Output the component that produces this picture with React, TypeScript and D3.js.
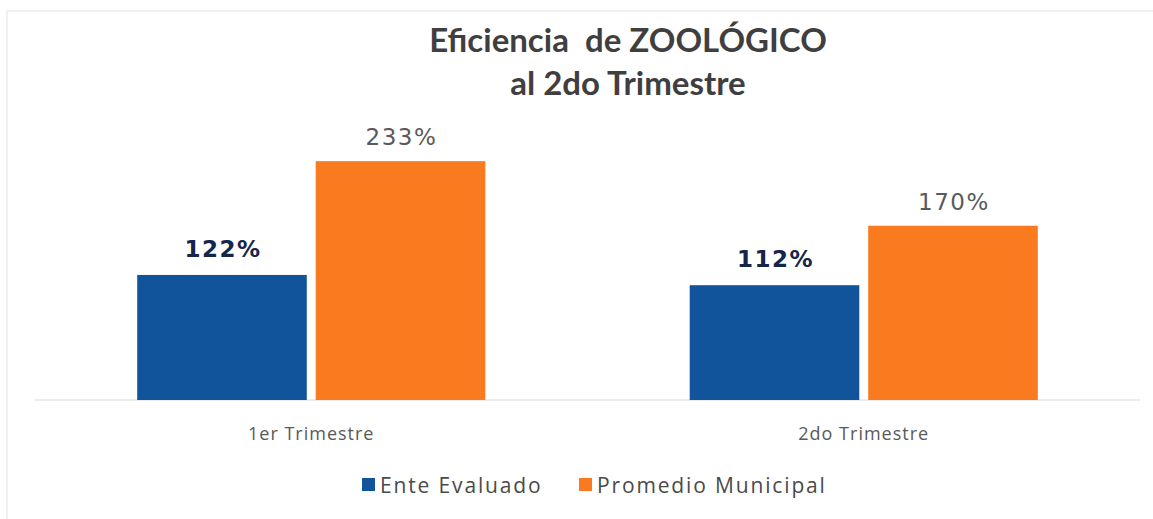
import React from "react";
import * as d3 from "d3";

const categories = ["1er Trimestre", "2do Trimestre"];
const seriesNames = ["Ente Evaluado", "Promedio Municipal"];
const enteEvaluado = [122, 112];
const promedioMunicipal = [233, 170];
const titleLines = ["Eficiencia\u00a0 de ZOOLÓGICO", "al 2do Trimestre"];

const W = 1153;
const H = 519;
const colors = ["#11549c", "#fa7a1f"];
const labelColors = ["#16254a", "#5a5a5a"];
const labelWeights = [700, 400];
const labelOffsets = [18, 16];

export default function App() {
  const x0 = d3.scaleBand<string>().domain(categories).range([35, 1140]).paddingInner(0.37).paddingOuter(0.185);
  const x1 = d3.scaleBand<string>().domain(seriesNames).range([0, x0.bandwidth()]).paddingInner(0.05);
  const y = d3.scaleLinear().domain([0, 250]).range([400, 400 - 1.025 * 250]);
  const series = [enteEvaluado, promedioMunicipal];
  const font = "Lato, 'Open Sans', sans-serif";
  const wide = "'Open Sans', sans-serif";
  const num = "'DejaVu Sans', sans-serif";

  return (
    <svg width={W} height={H} style={{ position: "absolute", left: 0, top: 0, background: "#fff" }}>
      <rect x={7} y={11} width={1160} height={520} fill="none" stroke="#e2e2e2" strokeWidth={1} />
      {titleLines.map((t, i) => (
        <text key={i} x={628} y={52 + i * 43} textAnchor="middle" fontFamily={font} fontWeight={700} fontSize={33} fill="#3f3f3f">
          {t}
        </text>
      ))}
      <line x1={35} x2={1140} y1={y(0)} y2={y(0)} stroke="#d9d9d9" strokeWidth={1} />
      {categories.map((c, ci) => (
        <g key={c} transform={`translate(${x0(c)},0)`}>
          {seriesNames.map((s, si) => {
            const v = series[si][ci];
            const bx = x1(s)!;
            return (
              <g key={s}>
                <rect x={bx} y={y(v)} width={x1.bandwidth()} height={y(0) - y(v)} fill={colors[si]} />
                <text x={bx + x1.bandwidth() / 2 + 1} y={y(v) - labelOffsets[si]} textAnchor="middle" fontFamily={num} fontWeight={labelWeights[si]} fontSize={23} fill={labelColors[si]} letterSpacing={1.5}>
                  {v}%
                </text>
              </g>
            );
          })}
          <text x={x0.bandwidth() / 2} y={440} textAnchor="middle" fontFamily={wide} fontSize={18} fill="#595959" letterSpacing={1}>
            {c}
          </text>
        </g>
      ))}
      <g>
        <rect x={362} y={478} width={13} height={13} fill={colors[0]} />
        <text x={380} y={493} fontFamily={wide} fontSize={21} fill="#4a4a4a" letterSpacing={1.85}>{seriesNames[0]}</text>
        <rect x={579} y={478} width={13} height={13} fill={colors[1]} />
        <text x={597} y={493} fontFamily={wide} fontSize={21} fill="#4a4a4a" letterSpacing={1.85}>{seriesNames[1]}</text>
      </g>
    </svg>
  );
}
